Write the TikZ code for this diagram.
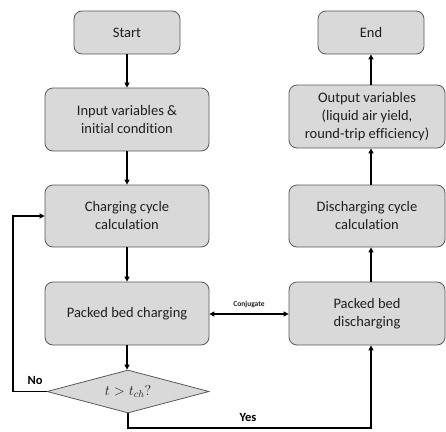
\documentclass[tikz,border=0pt]{standalone}
\usepackage{fontspec}
\setmainfont{Carlito}[Ligatures=NoCommon]
\usetikzlibrary{shapes.geometric,arrows.meta,calc}
\definecolor{boxfill}{HTML}{D9D9D9}
\definecolor{boxline}{HTML}{595959}
\definecolor{txt}{HTML}{1F1F1F}
\begin{document}
\begin{tikzpicture}[x=1pt,y=-1pt,
  box/.style={draw=boxline,fill=boxfill,rounded corners=8pt,line width=0.8pt,
    align=center,text=txt,font=\fontsize{14.5}{18}\selectfont,inner sep=0pt},
  flow/.style={line width=1.6pt,-{Triangle[length=5pt,width=5pt]}},
  lbl/.style={font=\bfseries\fontsize{12.5}{14}\selectfont,text=black}]
\useasboundingbox (0,0) rectangle (446,431);
\node[box,minimum width=106pt,minimum height=43pt] (start) at (127,32.5) {Start};
\node[box,minimum width=164pt,minimum height=63pt] (input) at (127,119.5) {Input variables \&\\initial condition};
\node[box,minimum width=164pt,minimum height=62pt] (chg) at (127,216) {Charging cycle\\calculation};
\node[box,minimum width=164pt,minimum height=63pt] (pbc) at (127,313.5) {Packed bed charging};
\node[draw=boxline,fill=boxfill,line width=0.8pt,shape=diamond,aspect=3.77,
  minimum width=162pt,minimum height=43pt,inner sep=0pt,text=txt,
  font=\fontsize{14.5}{17}\selectfont] (dec) at (128,391.5) {$t>t_{ch}?$};
\node[box,minimum width=106pt,minimum height=43pt] (end) at (371,32.5) {End};
\node[box,minimum width=156pt,minimum height=63pt] (out) at (367,116.5) {Output variables\\(liquid air yield,\\round-trip efficiency)};
\node[box,minimum width=156pt,minimum height=62pt] (dis) at (367,216) {Discharging cycle\\calculation};
\node[box,minimum width=156pt,minimum height=63pt] (pbd) at (367,313.5) {Packed bed\\discharging};
\draw[flow] (start.south) -- (input.north);
\draw[flow] (input.south) -- (chg.north);
\draw[flow] (chg.south) -- (pbc.south |- pbc.north);
\draw[flow] (pbc.south) -- (pbc.south |- dec.north);
\coordinate (nocorner) at (13,391.5);
\draw[flow] (dec.west) -- (nocorner) |- (chg.west);
\node[lbl] (no) at (35,380) {No};
\coordinate (yescorner) at (127,428);
\draw[flow] (dec.south) |- (end.south |- yescorner) -- (end.south |- pbd.south);
\node[lbl] (yes) at (248,417) {Yes};
\draw[flow] (end.south |- pbd.north) -- (end.south |- dis.south);
\draw[flow] (end.south |- dis.north) -- (end.south |- out.south);
\draw[flow] (end.south |- out.north) -- (end.south);
\draw[line width=1.2pt,{Triangle[length=5pt,width=5pt]}-{Triangle[length=5pt,width=5pt]}] (pbc.east |- 0,314) -- (pbd.west |- 0,314);
\node[font=\bfseries\fontsize{7.5}{9}\selectfont,text=txt] (conj) at (249,304) {Conjugate};
\end{tikzpicture}
\end{document}
